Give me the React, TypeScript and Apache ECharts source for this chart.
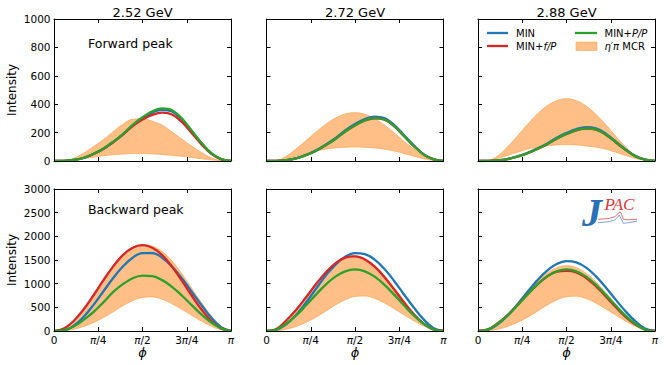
import React, { useEffect, useRef } from "react";
import * as echarts from "echarts";

// azimuthal angle phi in degrees (0..180 = 0..pi)
const PHI = [0, 10, 20, 30, 40, 50, 60, 70, 80, 90, 100, 110, 120, 130, 140, 150, 160, 170, 180];

const energies = ["2.52 GeV", "2.72 GeV", "2.88 GeV"];
const rowLabels = ["Forward peak", "Backward peak"];
const xTickValues = [0, 45, 90, 135, 180];
const xTickLabels = ["0", "π/4", "π/2", "3π/4", "π"];
const yMaxByRow = [1000, 3000];
const yStepByRow = [200, 500];

// ---- Forward peak ----
const fwd252Min = [0, 1, 7, 21, 49, 85, 132, 185, 249, 300, 341, 361, 349, 292, 210, 125, 54, 14, 0];
const fwd252FP = [0, 1, 7, 21, 49, 85, 132, 186, 246, 292, 325, 340, 328, 275, 197, 117, 50, 12, 0];
const fwd252PP = [0, 1, 7, 22, 50, 87, 135, 190, 255, 308, 350, 370, 358, 300, 215, 128, 55, 14, 0];
const fwd252BandLo = [0, 2, 8, 17, 27, 37, 44, 49, 52, 52, 50, 46, 40, 33, 25, 16, 8, 2, 0];
const fwd252BandHi = [0, 2, 19, 55, 100, 150, 205, 258, 294, 297, 280, 252, 205, 155, 105, 60, 22, 3, 0];

const fwd272Min = [0, 1, 6, 18, 42, 73, 114, 160, 215, 260, 295, 312, 302, 253, 181, 108, 46, 12, 0];
const fwd272FP = [0, 1, 6, 18, 41, 71, 110, 155, 207, 250, 285, 301, 291, 244, 174, 103, 45, 11, 0];
const fwd272PP = [0, 1, 6, 18, 41, 71, 110, 155, 208, 251, 286, 302, 292, 245, 175, 104, 45, 11, 0];
const fwd272BandLo = [0, 4, 16, 34, 53, 70, 83, 92, 97, 99, 97, 92, 83, 70, 53, 34, 16, 4, 0];
const fwd272BandHi = [0, 3, 34, 85, 142, 202, 257, 302, 331, 340, 329, 298, 252, 197, 138, 83, 33, 3, 0];

const fwd288Min = [0, 1, 5, 14, 32, 56, 87, 122, 164, 198, 225, 238, 230, 193, 138, 82, 36, 9, 0];
const fwd288FP = [0, 1, 4, 13, 31, 54, 83, 117, 157, 190, 216, 228, 221, 185, 132, 79, 34, 9, 0];
const fwd288PP = [0, 1, 4, 14, 31, 54, 84, 118, 158, 191, 218, 230, 223, 187, 134, 80, 34, 9, 0];
const fwd288BandLo = [0, 5, 18, 39, 62, 83, 97, 106, 113, 115, 113, 106, 97, 83, 62, 39, 18, 5, 0];
const fwd288BandHi = [0, 3, 35, 100, 175, 255, 328, 387, 425, 438, 425, 387, 328, 255, 175, 100, 35, 3, 0];

// ---- Backward peak ----
const bwd252Min = [0, 13, 111, 297, 546, 830, 1114, 1363, 1549, 1647, 1647, 1549, 1363, 1114, 830, 546, 280, 80, 0];
const bwd252FP = [0, 50, 212, 454, 750, 1065, 1361, 1603, 1760, 1815, 1760, 1603, 1361, 1065, 750, 454, 212, 55, 0];
const bwd252PP = [0, 17, 95, 235, 400, 600, 820, 990, 1115, 1170, 1160, 1075, 934, 750, 547, 349, 180, 59, 0];
const bwd252BandLo = [0, 7, 36, 94, 176, 281, 403, 533, 641, 709, 720, 670, 576, 457, 331, 209, 101, 25, 0];
const bwd252BandHi = [0, 55, 218, 462, 760, 1075, 1370, 1612, 1768, 1825, 1790, 1680, 1480, 1210, 905, 600, 320, 100, 0];

const bwd272Min = [0, 25, 141, 340, 598, 882, 1166, 1398, 1569, 1646, 1625, 1509, 1310, 1052, 767, 490, 240, 60, 0];
const bwd272FP = [0, 40, 222, 444, 707, 981, 1231, 1429, 1549, 1578, 1512, 1358, 1136, 872, 599, 348, 151, 30, 0];
const bwd272PP = [0, 30, 152, 325, 537, 763, 975, 1148, 1261, 1300, 1261, 1148, 975, 763, 537, 325, 152, 30, 0];
const bwd272BandLo = [0, 7, 37, 96, 181, 289, 414, 548, 659, 729, 740, 688, 592, 470, 340, 215, 104, 26, 0];
const bwd272BandHi = [0, 45, 225, 450, 712, 985, 1235, 1432, 1552, 1590, 1530, 1385, 1170, 910, 640, 385, 175, 45, 0];

const bwd288Min = [0, 22, 141, 326, 561, 817, 1064, 1272, 1416, 1478, 1451, 1339, 1153, 919, 663, 416, 207, 50, 0];
const bwd288FP = [0, 35, 163, 335, 544, 768, 976, 1146, 1255, 1270, 1240, 1121, 944, 728, 507, 300, 135, 30, 0];
const bwd288PP = [0, 30, 152, 325, 537, 763, 975, 1148, 1261, 1300, 1261, 1148, 975, 763, 537, 325, 152, 30, 0];
const bwd288BandLo = [0, 7, 37, 96, 180, 287, 412, 544, 654, 724, 735, 684, 588, 467, 338, 213, 103, 26, 0];
const bwd288BandHi = [0, 40, 161, 345, 570, 810, 1035, 1218, 1338, 1380, 1338, 1218, 1035, 810, 570, 345, 161, 40, 0];

const panels = [
  [
    { min: fwd252Min, fp: fwd252FP, pp: fwd252PP, lo: fwd252BandLo, hi: fwd252BandHi },
    { min: fwd272Min, fp: fwd272FP, pp: fwd272PP, lo: fwd272BandLo, hi: fwd272BandHi },
    { min: fwd288Min, fp: fwd288FP, pp: fwd288PP, lo: fwd288BandLo, hi: fwd288BandHi },
  ],
  [
    { min: bwd252Min, fp: bwd252FP, pp: bwd252PP, lo: bwd252BandLo, hi: bwd252BandHi },
    { min: bwd272Min, fp: bwd272FP, pp: bwd272PP, lo: bwd272BandLo, hi: bwd272BandHi },
    { min: bwd288Min, fp: bwd288FP, pp: bwd288PP, lo: bwd288BandLo, hi: bwd288BandHi },
  ],
];

const FONT = '"DejaVu Sans", sans-serif';
const SERIF = '"Liberation Serif", "DejaVu Serif", serif';
const BLUE = "#1f77b4";
const RED = "#d62728";
const GREEN = "#2ca02c";
const BAND = "#ffbf87";
const BAND_EDGE = "#ffab5e";

const gridLefts = [54, 266.5, 478];
const gridTops = [19, 189];
const GW = 177;
const GH = 142;

function pairs(vals: number[]) {
  return PHI.map((x, i) => [x, vals[i]]);
}

function buildOption() {
  const grid: any[] = [];
  const xAxis: any[] = [];
  const yAxis: any[] = [];
  const series: any[] = [];
  const tickStyle = { color: "#000", width: 1 };
  const lineStyle = { color: "#000", width: 1 };

  for (let r = 0; r < 2; r++) {
    for (let c = 0; c < 3; c++) {
      const g = r * 3 + c;
      grid.push({ left: gridLefts[c], top: gridTops[r], width: GW, height: GH, containLabel: false });
      const xBase = {
        type: "value",
        gridIndex: g,
        min: 0,
        max: 180,
        interval: 45,
        z: 10,
        splitLine: { show: false },
        axisLine: { show: true, onZero: false, lineStyle },
        axisTick: { show: true, inside: true, length: 4, lineStyle: tickStyle },
      };
      xAxis.push({
        ...xBase,
        position: "bottom",
        axisLabel: {
          show: r === 1,
          margin: 3,
          color: "#000",
          fontSize: 10.5,
          fontFamily: FONT,
          showMinLabel: true,
          showMaxLabel: true,
          formatter: (v: number) => {
            const idx = xTickValues.indexOf(Math.round(v));
            if (idx < 0) return "";
            return xTickLabels[idx].replace("π", "{i|π}");
          },
          rich: { i: { fontStyle: "italic", fontSize: 10.5, fontFamily: FONT, color: "#000" } },
        },
      });
      xAxis.push({ ...xBase, position: "top", axisLabel: { show: false } });
      const yBase = {
        type: "value",
        gridIndex: g,
        min: 0,
        max: yMaxByRow[r],
        interval: yStepByRow[r],
        z: 10,
        splitLine: { show: false },
        axisLine: { show: true, onZero: false, lineStyle },
        axisTick: { show: true, inside: true, length: 4, lineStyle: tickStyle },
      };
      yAxis.push({
        ...yBase,
        position: "left",
        axisLabel: {
          show: c === 0,
          margin: 3.5,
          color: "#000",
          fontSize: 10.5,
          fontFamily: FONT,
          showMinLabel: true,
          showMaxLabel: true,
          formatter: (v: number) => String(v),
        },
      });
      yAxis.push({ ...yBase, position: "right", axisLabel: { show: false } });

      const p = panels[r][c];
      const common = {
        type: "line",
        xAxisIndex: 2 * g,
        yAxisIndex: 2 * g,
        symbol: "none",
        smooth: 0.4,
        silent: true,
      };
      // band: upper edge filled orange, area under the lower edge covered with white
      series.push({
        ...common,
        name: "η′π MCR",
        data: pairs(p.hi),
        lineStyle: { color: BAND_EDGE, width: 0.8 },
        areaStyle: { color: BAND, opacity: 1 },
        z: 1,
      });
      series.push({
        ...common,
        name: "η′π MCR lower",
        data: pairs(p.lo),
        lineStyle: { color: BAND_EDGE, width: 0.8 },
        areaStyle: { color: "#ffffff", opacity: 1 },
        z: 2,
      });
      series.push({ ...common, name: "MIN", data: pairs(p.min), lineStyle: { color: BLUE, width: 2.3 }, z: 3 });
      series.push({ ...common, name: "MIN+f/P", data: pairs(p.fp), lineStyle: { color: RED, width: 2.3 }, z: 4 });
      series.push({ ...common, name: "MIN+P/P", data: pairs(p.pp), lineStyle: { color: GREEN, width: 2.3 }, z: 5 });
    }
  }

  const txt = (text: string, x: number, y: number, size: number, extra: any = {}) => ({
    type: "text",
    x,
    y,
    silent: true,
    z: 50,
    style: {
      text,
      fill: "#000",
      fontSize: size,
      fontFamily: FONT,
      align: "center",
      verticalAlign: "middle",
      ...extra,
    },
  });

  const graphic: any[] = [];
  energies.forEach((e, c) => graphic.push(txt(e, gridLefts[c] + GW / 2, 12, 13)));
  gridTops.forEach((t) => graphic.push({ ...txt("Intensity", 12, t + GH / 2, 12), rotation: Math.PI / 2 }));
  graphic.push(txt(rowLabels[0], 88, 43, 12.5, { align: "left" }));
  graphic.push(txt(rowLabels[1], 88, 209, 12.5, { align: "left" }));
  gridLefts.forEach((l) => graphic.push(txt("ϕ", l + GW / 2, 352, 13, { fontStyle: "italic" })));

  // legend
  const rich = { i: { fontStyle: "italic", fontSize: 10, fontFamily: FONT, fill: "#000" } };
  graphic.push({ type: "line", shape: { x1: 487, y1: 33, x2: 508, y2: 33 }, style: { stroke: BLUE, lineWidth: 2.3 }, z: 50 });
  graphic.push(txt("MIN", 516, 33, 10, { align: "left" }));
  graphic.push({ type: "line", shape: { x1: 487, y1: 46, x2: 508, y2: 46 }, style: { stroke: RED, lineWidth: 2.3 }, z: 50 });
  graphic.push(txt("MIN+{i|f/P}", 516, 46, 10, { align: "left", rich }));
  graphic.push({ type: "line", shape: { x1: 575, y1: 33, x2: 597, y2: 33 }, style: { stroke: GREEN, lineWidth: 2.3 }, z: 50 });
  graphic.push(txt("MIN+{i|P/P}", 604.5, 33, 10, { align: "left", rich }));
  graphic.push({ type: "rect", shape: { x: 576, y: 42, width: 21, height: 8.5 }, style: { fill: BAND, stroke: BAND_EDGE, lineWidth: 0.6 }, z: 50 });
  graphic.push(txt("{i|η′π} MCR", 604.5, 46, 10, { align: "left", rich }));

  // JPAC logo
  graphic.push({
    type: "polyline",
    z: 50,
    shape: { points: [[598, 219.3], [608, 218.6], [615, 216.7], [618.5, 213], [620, 211.7], [621.5, 214], [623.3, 219.3], [628, 219.8], [637, 219.3]] },
    style: { stroke: "#e0474c", lineWidth: 0.8, fill: null },
  });
  graphic.push({
    type: "polyline",
    z: 50,
    shape: { points: [[598, 222.7], [608, 221.8], [615, 220], [619.3, 215], [621.3, 219], [623.3, 223.3], [628.3, 222.7], [637, 221]] },
    style: { stroke: "#5b8fd0", lineWidth: 0.8, fill: null },
  });
  graphic.push(txt("J", 592, 212, 40, { fontFamily: SERIF, fontStyle: "italic", fontWeight: "bold", fill: "#2a72b5" }));
  graphic.push(txt("PAC", 619.5, 204.5, 17, { fontFamily: SERIF, fontStyle: "italic", fill: "#d9363e" }));

  return {
    animation: false,
    backgroundColor: "#fff",
    grid,
    xAxis,
    yAxis,
    series,
    graphic,
  };
}

export default function App() {
  const ref = useRef<HTMLDivElement>(null);
  useEffect(() => {
    if (!ref.current) return;
    const chart = echarts.init(ref.current, null, { renderer: "svg" });
    chart.setOption(buildOption() as any);
    return () => chart.dispose();
  }, []);
  return (
    <div
      ref={ref}
      style={{ position: "absolute", left: 0, top: 0, width: 664, height: 365, background: "#fff" }}
    />
  );
}
